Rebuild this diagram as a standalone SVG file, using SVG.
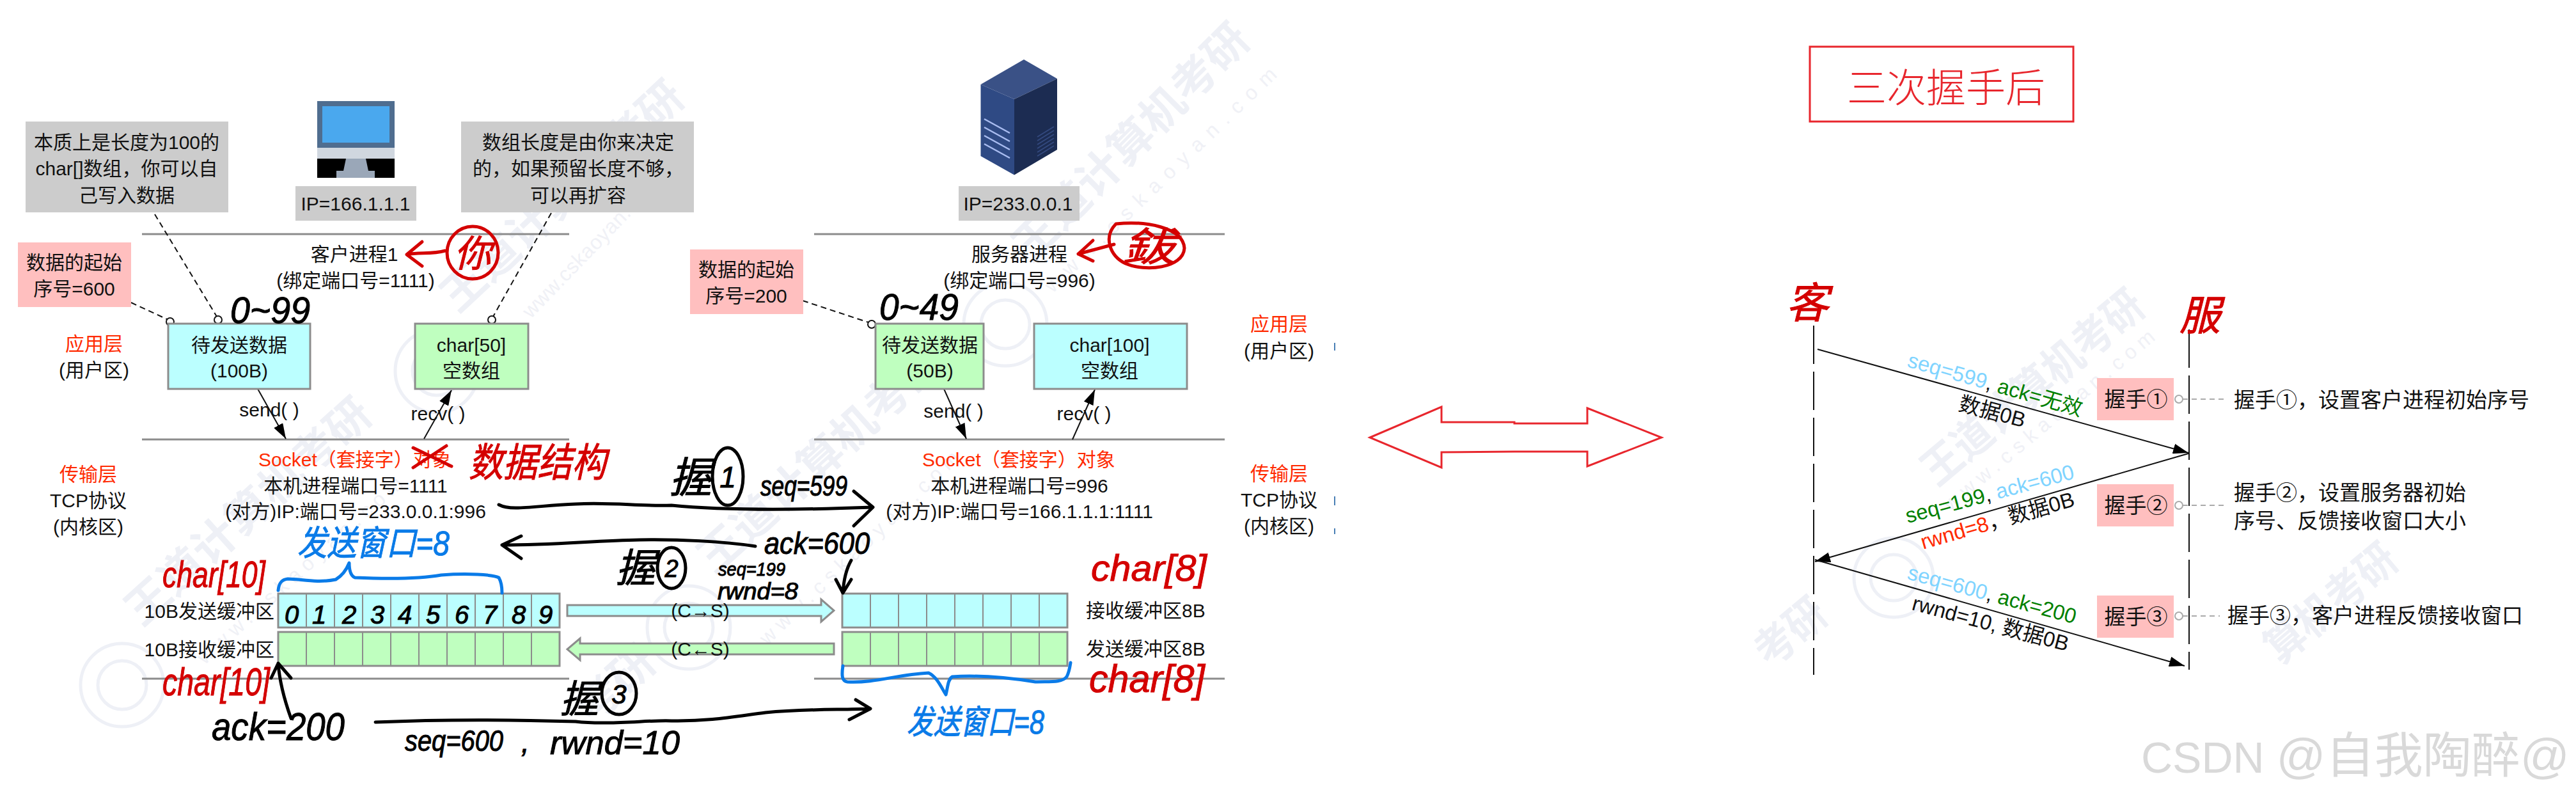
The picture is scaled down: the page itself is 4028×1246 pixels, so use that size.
<svg xmlns="http://www.w3.org/2000/svg" width="4028" height="1246" viewBox="0 0 4028 1246">
<style>
svg{font-size:30px}
text{font-family:"Liberation Sans","Noto Sans CJK SC",sans-serif;fill:#111;text-anchor:middle}
.s{text-anchor:start}
.e{text-anchor:end}
.r{fill:#ff2a00}
.w{font-size:33px}
.gray{fill:#ccc}
.pink{fill:#ffbfbf}
.cy{fill:#bbffff;stroke:#8c8c8c;stroke-width:3}
.gr{fill:#bfffbf;stroke:#8c8c8c;stroke-width:3}
.cell{fill:none;stroke:#8c8c8c;stroke-width:2}
.sep{stroke:#8c8c8c;stroke-width:3;fill:none}
.dash{stroke:#111;stroke-width:2;stroke-dasharray:9 6;fill:none}
.ring{fill:#fff;stroke:#111;stroke-width:2}
.thin{stroke:#111;stroke-width:2;fill:none}
.life{stroke:#111;stroke-width:2;stroke-dasharray:60 12;fill:none}
.gdash{stroke:#aaa;stroke-width:2;stroke-dasharray:8 6;fill:none}
.gring{fill:#fff;stroke:#aaa;stroke-width:2}
.ink{fill:none;stroke:#000;stroke-width:5;stroke-linecap:round;stroke-linejoin:round}
.redink{fill:none;stroke:#d40000;stroke-width:5;stroke-linecap:round;stroke-linejoin:round}
.blueink{fill:none;stroke:#0a7be8;stroke-width:5;stroke-linecap:round;stroke-linejoin:round}
.hk,.hr,.hb{font-style:italic;stroke-width:1px}
.hk{fill:#000;stroke:#000}
.hr{fill:#d40000;stroke:#d40000}
.hb{fill:#0a7be8;stroke:#0a7be8}
.wm{fill:#eef0f6;font-size:68px;font-weight:bold}
.wu{fill:#f0f1f6;font-size:32px;text-anchor:start}
.seal{fill:none;stroke:#eef0f6;stroke-width:5}
.bigred{fill:none;stroke:#e8262d;stroke-width:3}
</style>
<defs>
<marker id="ah" markerUnits="userSpaceOnUse" markerWidth="26" markerHeight="16" refX="24" refY="8" orient="auto"><path d="M0 0L24 8L0 16Z" fill="#000"/></marker>
</defs>
<rect width="4028" height="1246" fill="#fff"/>
<g id="watermarks">
<text class="wm s" transform="translate(716,491) rotate(-43)" textLength="490" lengthAdjust="spacingAndGlyphs">王道计算机考研</text>
<text class="wm s" transform="translate(1612,412) rotate(-45)" textLength="490" lengthAdjust="spacingAndGlyphs">王道计算机考研</text>
<text class="wm s" transform="translate(222,981) rotate(-42)" textLength="490" lengthAdjust="spacingAndGlyphs">王道计算机考研</text>
<text class="wm s" transform="translate(1117,899) rotate(-42)" textLength="490" lengthAdjust="spacingAndGlyphs">王道计算机考研</text>
<text class="wm s" transform="translate(926,1134) rotate(-42)" textLength="140" lengthAdjust="spacingAndGlyphs">考研</text>
<text class="wm s" transform="translate(3029,762) rotate(-40)" textLength="430" lengthAdjust="spacingAndGlyphs">王道计算机考研</text>
<text class="wm s" transform="translate(3566,1040) rotate(-40)" textLength="246" lengthAdjust="spacingAndGlyphs">算机考研</text>
<text class="wm s" transform="translate(2768,1046) rotate(-40)" textLength="123" lengthAdjust="spacingAndGlyphs">考研</text>
<text class="wu" transform="translate(830,499) rotate(-46)" textLength="290">www.cskaoyan.com</text>
<text class="wu" transform="translate(1646,459) rotate(-44)" textLength="490">www.cskaoyan.com</text>
<text class="wu" transform="translate(320,1040) rotate(-42)" textLength="420">www.cskaoyan.com</text>
<text class="wu" transform="translate(1200,1010) rotate(-44)" textLength="420">www.cskaoyan.com</text>
<text class="wu" transform="translate(3050,800) rotate(-40)" textLength="420">www.cskaoyan.com</text>
<circle class="seal" cx="683" cy="580" r="65"/><circle class="seal" cx="683" cy="580" r="38"/>
<circle class="seal" cx="1572" cy="507" r="65"/><circle class="seal" cx="1572" cy="507" r="38"/>
<circle class="seal" cx="191" cy="1071" r="65"/><circle class="seal" cx="191" cy="1071" r="38"/>
<circle class="seal" cx="1077" cy="981" r="65"/><circle class="seal" cx="1077" cy="981" r="38"/>
<circle class="seal" cx="2961" cy="903" r="62"/><circle class="seal" cx="2961" cy="903" r="36"/>
</g>
<g id="separators">
<path class="sep" d="M222 366H890M222 687H890M222 1061H890M1273 366H1915M1273 687H1915M1273 1061H1915"/>
</g>
<g id="connectors">
<path class="dash" d="M242 335L339 495M862 333L771 495M205 473L261 499M1255 470L1358 504"/>
<ellipse class="ring" cx="341" cy="500" rx="6" ry="6"/><ellipse class="ring" cx="769" cy="500" rx="6" ry="6"/><ellipse class="ring" cx="266" cy="503" rx="6" ry="6"/><ellipse class="ring" cx="1363" cy="507" rx="6" ry="6"/>
<path class="thin" marker-end="url(#ah)" d="M403 608L447 686"/>
<path class="thin" marker-end="url(#ah)" d="M663 686L706 610"/>
<path class="thin" marker-end="url(#ah)" d="M1476 608L1511 686"/>
<path class="thin" marker-end="url(#ah)" d="M1677 687L1712 609"/>
<path class="life" d="M2836 509V1055M3423 515V1047"/>
<path class="thin" marker-end="url(#ah)" d="M2842 546L3422 708"/>
<path class="thin" marker-end="url(#ah)" d="M3422 709L2838 878"/>
<path class="thin" marker-end="url(#ah)" d="M2838 875L3416 1041"/>
<path class="gdash" d="M3413 624H3482M3413 790H3482M3413 963H3471"/>
<ellipse class="gring" cx="3407" cy="624" rx="6" ry="6"/><ellipse class="gring" cx="3407" cy="790" rx="6" ry="6"/><ellipse class="gring" cx="3407" cy="963" rx="6" ry="6"/>
</g>
<g id="note-left"><rect class="gray" x="40" y="190" width="317" height="142"/><text x="198" y="233">本质上是长度为100的</text><text x="198" y="274">char[]数组，你可以自</text><text x="198" y="316">己写入数据</text></g>
<g id="client-pc">
<rect x="496" y="158" width="121" height="73" fill="#4f6d8f"/><rect x="504" y="166" width="105" height="57" fill="#4aa8ee"/><rect x="496" y="231" width="121" height="17" fill="#d0d7df"/><rect x="496" y="248" width="121" height="30" fill="#000"/><path d="M541 248H572L576 267H586V278H526V267H537Z" fill="#9aa7b8"/>
</g>
<g id="client-ip"><rect class="gray" x="462" y="291" width="189" height="54"/><text x="556" y="329">IP=166.1.1.1</text></g>
<g id="note-right"><rect class="gray" x="721" y="190" width="364" height="142"/><text x="904" y="233">数组长度是由你来决定</text><text x="904" y="274">的，如果预留长度不够，</text><text x="904" y="316">可以再扩容</text></g>
<g id="server-icon">
<path d="M1601 93L1653 123L1586 155L1533.500 132Z" fill="#3a5186"/>
<path d="M1533.500 132L1586 155V273.500L1533.500 244Z" fill="#2f4a84"/>
<path d="M1586 155L1653 123V234L1586 273.500Z" fill="#1c2c52"/>
<path d="M1539 186L1579 208M1539 199L1579 221M1539 212L1579 234M1539 225L1579 247" stroke="#a9bcf0" stroke-width="2.500" fill="none"/>
<path d="M1622 214L1648 198M1622 220L1648 204M1622 226L1648 210M1622 232L1648 216M1622 238L1648 222M1622 244L1648 228" stroke="#33497e" stroke-width="2" fill="none"/>
</g>
<g id="server-ip"><rect class="gray" x="1499" y="291" width="189" height="54"/><text x="1592" y="329">IP=233.0.0.1</text></g>
<g id="client-process"><text x="554" y="408">客户进程1</text><text x="556" y="449">(绑定端口号=1111)</text></g>
<g id="server-process"><text x="1594" y="408">服务器进程</text><text x="1594" y="449">(绑定端口号=996)</text></g>
<g id="start-client"><rect class="pink" x="28" y="379" width="177" height="101"/><text x="116" y="421">数据的起始</text><text x="116" y="462">序号=600</text></g>
<g id="start-server"><rect class="pink" x="1079" y="390" width="177" height="101"/><text x="1167" y="432">数据的起始</text><text x="1167" y="473">序号=200</text></g>
<g id="app-layer-left"><text class="r" x="147" y="548">应用层</text><text x="147" y="589">(用户区)</text></g>
<g id="app-layer-right"><text class="r" x="2000" y="517">应用层</text><text x="2000" y="559">(用户区)</text></g>
<g id="client-send-data"><rect class="cy" x="263" y="506" width="222" height="102"/><text x="374" y="550">待发送数据</text><text x="374" y="590">(100B)</text></g>
<g id="client-recv-data"><rect class="gr" x="649" y="506" width="177" height="102"/><text x="737" y="550">char[50]</text><text x="737" y="590">空数组</text></g>
<g id="server-send-data"><rect class="gr" x="1369" y="506" width="169" height="102"/><text x="1454" y="550">待发送数据</text><text x="1454" y="590">(50B)</text></g>
<g id="server-recv-data"><rect class="cy" x="1617" y="506" width="239" height="102"/><text x="1735" y="550">char[100]</text><text x="1735" y="590">空数组</text></g>
<g id="api-labels"><text x="421" y="651">send( )</text><text x="685" y="657">recv( )</text><text x="1491" y="653">send( )</text><text x="1695" y="657">recv( )</text></g>
<g id="socket-client"><text class="r s" x="404" y="729">Socket（套接字）对象</text><text x="556" y="770">本机进程端口号=1111</text><text x="556" y="810">(对方)IP:端口号=233.0.0.1:996</text></g>
<g id="socket-server"><text class="r s" x="1442" y="729">Socket（套接字）对象</text><text x="1594" y="770">本机进程端口号=996</text><text x="1594" y="810">(对方)IP:端口号=166.1.1.1:1111</text></g>
<g id="tcp-left"><text class="r" x="138" y="752">传输层</text><text x="138" y="793">TCP协议</text><text x="138" y="834">(内核区)</text></g>
<g id="tcp-right"><text class="r" x="2000" y="751">传输层</text><text x="2000" y="792">TCP协议</text><text x="2000" y="833">(内核区)</text></g>
<g id="client-send-buffer"><rect class="cy" x="435" y="928" width="440" height="53"/><path class="cell" d="M479 928V981M523 928V981M567 928V981M611 928V981M655 928V981M699 928V981M743 928V981M787 928V981M831 928V981"/><text class="e" x="429" y="966">10B发送缓冲区</text></g>
<g id="client-recv-buffer"><rect class="gr" x="435" y="988" width="440" height="53"/><path class="cell" d="M479 988V1041M523 988V1041M567 988V1041M611 988V1041M655 988V1041M699 988V1041M743 988V1041M787 988V1041M831 988V1041"/><text class="e" x="429" y="1026">10B接收缓冲区</text></g>
<g id="server-recv-buffer"><rect class="cy" x="1317" y="928" width="352" height="53"/><path class="cell" d="M1361 928V981M1405 928V981M1449 928V981M1493 928V981M1537 928V981M1581 928V981M1625 928V981"/><text class="s" x="1698" y="965">接收缓冲区8B</text></g>
<g id="server-send-buffer"><rect class="gr" x="1317" y="988" width="352" height="53"/><path class="cell" d="M1361 988V1041M1405 988V1041M1449 988V1041M1493 988V1041M1537 988V1041M1581 988V1041M1625 988V1041"/><text class="s" x="1698" y="1025">发送缓冲区8B</text></g>
<g id="pipe-c2s"><path class="cy" d="M887 946H1284V937L1304 954.500L1284 972V963H887Z"/><text x="1095" y="965">(C→S)</text></g>
<g id="pipe-s2c"><path class="gr" d="M1304 1006H907V998L887 1015L907 1032V1023H1304Z"/><text x="1095" y="1025">(C←S)</text></g>
<g id="handwriting">
<text class="hk s" x="360" y="505" font-size="58" textLength="125" lengthAdjust="spacingAndGlyphs">0~99</text>
<text class="hk s" x="1375" y="500" font-size="58" textLength="124" lengthAdjust="spacingAndGlyphs">0~49</text>
<ellipse class="redink" cx="739" cy="395" rx="40" ry="41"/>
<text class="hr" x="739" y="417" font-size="58">你</text>
<path class="redink" d="M696 392C675 398 655 394 636 398M660 378L636 398L660 416"/>
<path class="redink" d="M1745 350C1790 345 1850 355 1852 388C1850 420 1790 425 1760 412C1735 400 1725 370 1745 350Z"/>
<text class="hr" x="1796" y="408" font-size="62" textLength="84" lengthAdjust="spacingAndGlyphs">鈸</text>
<path class="redink" d="M1742 382L1686 397M1709 376L1686 397L1709 408"/>
<path class="redink" d="M646 700L706 729M646 731L698 697"/>
<text class="hr s" x="733" y="745" font-size="62" textLength="215" lengthAdjust="spacingAndGlyphs">数据结构</text>
<path class="ink" d="M780 789C800 800 840 790 900 788C960 785 1000 792 1050 790C1130 798 1230 798 1365 793M1335 768L1365 793L1335 822"/>
<text class="hk" x="1080" y="770" font-size="66">握</text>
<ellipse class="ink" cx="1138" cy="745" rx="24" ry="45"/><text class="hk" x="1138" y="762" font-size="46">1</text>
<text class="hk s" x="1189" y="775" font-size="44" textLength="136" lengthAdjust="spacingAndGlyphs">seq=599</text>
<path class="ink" d="M1181 854C1130 846 1060 843 1000 844C930 845 870 852 785 852M815 838L785 852L815 873"/>
<text class="hk s" x="1195" y="866" font-size="48" textLength="165" lengthAdjust="spacingAndGlyphs">ack=600</text>
<path class="ink" d="M1331 876C1323 890 1319 910 1318 927M1307 906L1318 927L1331 906"/>
<text class="hk" x="994" y="910" font-size="62">握</text>
<ellipse class="ink" cx="1050" cy="888" rx="22" ry="32"/><text class="hk" x="1050" y="902" font-size="38">2</text>
<text class="hk s" x="1123" y="900" font-size="30" textLength="105" lengthAdjust="spacingAndGlyphs">seq=199</text>
<text class="hk s" x="1122" y="937" font-size="36" textLength="126" lengthAdjust="spacingAndGlyphs">rwnd=8</text>
<text class="hb s" x="465" y="868" font-size="54" textLength="238" lengthAdjust="spacingAndGlyphs">发送窗口=8</text>
<path class="blueink" d="M435 923C436 912 440 906 450 905C470 905 495 912 525 906C535 900 542 890 546 880C546 892 548 900 555 903C600 905 650 906 690 899C730 896 770 898 780 903C784 910 785 918 785 927"/>
<text class="hr s" x="254" y="918" font-size="58" textLength="161" lengthAdjust="spacingAndGlyphs">char[10]</text>
<text class="hr s" x="254" y="1087" font-size="62" textLength="168" lengthAdjust="spacingAndGlyphs">char[10]</text>
<text class="hr s" x="1706" y="908" font-size="58" textLength="181" lengthAdjust="spacingAndGlyphs">char[8]</text>
<text class="hr s" x="1703" y="1082" font-size="62" textLength="181" lengthAdjust="spacingAndGlyphs">char[8]</text>
<g id="digits">
<text class="hk" x="456" y="975" font-size="40">0</text><text class="hk" x="499" y="975" font-size="40">1</text><text class="hk" x="546" y="975" font-size="40">2</text><text class="hk" x="590" y="975" font-size="40">3</text><text class="hk" x="633" y="975" font-size="40">4</text><text class="hk" x="677" y="975" font-size="40">5</text><text class="hk" x="722" y="975" font-size="40">6</text><text class="hk" x="766" y="975" font-size="40">7</text><text class="hk" x="811" y="975" font-size="40">8</text><text class="hk" x="853" y="975" font-size="40">9</text>
</g>
<path class="ink" d="M455 1123C445 1095 437 1065 435 1037M424 1060L435 1037L455 1060"/>
<text class="hk s" x="331" y="1157" font-size="62" textLength="208" lengthAdjust="spacingAndGlyphs">ack=200</text>
<text class="hk" x="906" y="1114" font-size="60">握</text>
<ellipse class="ink" cx="968" cy="1084" rx="27" ry="33"/><text class="hk" x="968" y="1100" font-size="42">3</text>
<path class="ink" d="M587 1129C700 1124 800 1125 900 1128C950 1134 1020 1125 1050 1127C1110 1128 1150 1120 1197 1114C1260 1108 1310 1110 1361 1108M1338 1094L1361 1108L1328 1125"/>
<text class="hk s" x="633" y="1174" font-size="46" textLength="154" lengthAdjust="spacingAndGlyphs">seq=600</text>
<text class="hk s" x="815" y="1176" font-size="46">,</text>
<text class="hk s" x="860" y="1179" font-size="52" textLength="203" lengthAdjust="spacingAndGlyphs">rwnd=10</text>
<path class="blueink" d="M1318 1041C1316 1055 1316 1065 1325 1066C1370 1068 1400 1055 1452 1052C1465 1058 1472 1075 1479 1086C1482 1075 1482 1062 1489 1058C1530 1055 1580 1060 1619 1066C1640 1065 1660 1068 1668 1058C1672 1050 1673 1042 1674 1036"/>
<text class="hb s" x="1418" y="1147" font-size="52" textLength="215" lengthAdjust="spacingAndGlyphs">发送窗口=8</text>
<path d="M2087 536V548M2087 776V790M2087 826V835" stroke="#4a7fb5" stroke-width="2" fill="none"/>
</g>
<g id="title"><rect class="bigred" x="2830" y="73" width="412" height="117"/><text x="3043" y="160" font-weight="300" style="font-size:62px;fill:#e8262d">三次握手后</text></g>
<g id="double-arrow"><path class="bigred" d="M2142 684L2254 636V660H2368V662H2482V638L2598 684L2482 729V706H2368L2254 707V731Z"/></g>
<g id="client-lifeline-label"><text class="hr" x="2826" y="497" font-size="66">客</text></g>
<g id="server-lifeline-label"><text class="hr" x="3440" y="516" font-size="64">服</text></g>
<g id="hs1"><rect class="pink" x="3279" y="591" width="120" height="66"/><text class="w" x="3340" y="636">握手①</text><text class="w s" x="3493" y="637">握手①，设置客户进程初始序号</text></g>
<g id="hs2"><rect class="pink" x="3279" y="757" width="120" height="66"/><text class="w" x="3340" y="802">握手②</text><text class="w s" x="3493" y="782">握手②，设置服务器初始</text><text class="w s" x="3493" y="826">序号、反馈接收窗口大小</text></g>
<g id="hs3"><rect class="pink" x="3279" y="931" width="120" height="66"/><text class="w" x="3340" y="976">握手③</text><text class="w s" x="3483" y="974">握手③，客户进程反馈接收窗口</text></g>
<g id="arrow-labels">
<text class="w s" transform="translate(2981,573) rotate(16)"><tspan fill="#7fd4ff">seq=599</tspan>, <tspan fill="#008000">ack=无效</tspan></text>
<text class="w s" transform="translate(3061,641) rotate(15)">数据0B</text>
<text class="w s" transform="translate(2983,818) rotate(-15)"><tspan fill="#008000">seq=199</tspan>, <tspan fill="#7fd4ff">ack=600</tspan></text>
<text class="w s" transform="translate(3007,859) rotate(-16)"><tspan fill="#ff2a00">rwnd=8</tspan>，数据0B</text>
<text class="w s" transform="translate(2981,905) rotate(15)"><tspan fill="#7fd4ff">seq=600</tspan>, <tspan fill="#008000">ack=200</tspan></text>
<text class="w s" transform="translate(2988,953) rotate(15)">rwnd=10, 数据0B</text>
</g>
<g id="csdn-watermark"><text class="s" x="3348" y="1208" style="font-size:68px;fill:#d9d9d9">CSDN <tspan style="font-size:76px">@自我陶醉@</tspan></text></g>
</svg>
